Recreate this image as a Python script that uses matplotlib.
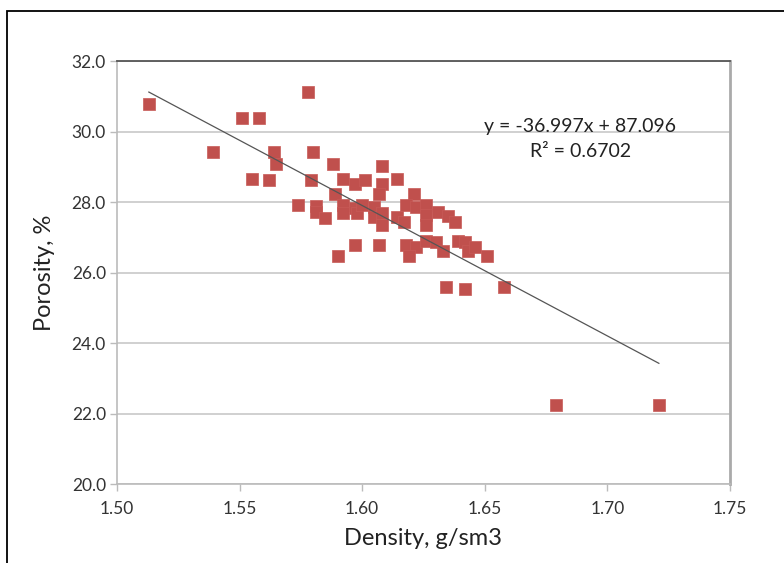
import matplotlib.pyplot as plt
from matplotlib.patches import Rectangle

# density (g/sm3) and porosity (%) for each sample
density = [1.513, 1.539, 1.551, 1.558, 1.578, 1.564, 1.565, 1.580, 1.555, 1.562,
           1.579, 1.588, 1.592, 1.589, 1.574, 1.581, 1.581, 1.585, 1.592, 1.592,
           1.590, 1.608, 1.597, 1.601, 1.608, 1.614, 1.607, 1.621, 1.597, 1.598,
           1.600, 1.605, 1.605, 1.608, 1.608, 1.614, 1.617, 1.618, 1.622, 1.626,
           1.626, 1.626, 1.631, 1.635, 1.638, 1.597, 1.607, 1.618, 1.622, 1.619,
           1.626, 1.630, 1.633, 1.639, 1.642, 1.643, 1.646, 1.651, 1.634, 1.642,
           1.658, 1.679, 1.721]
porosity = [30.78, 29.43, 30.39, 30.39, 31.13, 29.43, 29.07, 29.43, 28.64, 28.62,
            28.62, 29.07, 28.64, 28.22, 27.91, 27.89, 27.71, 27.54, 27.91, 27.70,
            26.47, 29.03, 28.50, 28.62, 28.51, 28.64, 28.22, 28.22, 27.82, 27.70,
            27.91, 27.87, 27.58, 27.68, 27.35, 27.58, 27.42, 27.91, 27.87, 27.91,
            27.63, 27.35, 27.72, 27.61, 27.42, 26.78, 26.78, 26.78, 26.73, 26.48,
            26.89, 26.87, 26.61, 26.89, 26.87, 26.61, 26.73, 26.47, 25.59, 25.52,
            25.59, 22.24, 22.24]

# linear trend
slope = -36.997
intercept = 87.096
r_squared = 0.6702

x_ticks = [1.50, 1.55, 1.60, 1.65, 1.70, 1.75]
y_ticks = [20, 22, 24, 26, 28, 30, 32]

plt.rcParams['font.family'] = ['Lato', 'DejaVu Sans']

fig = plt.figure(figsize=(7.84, 5.63), dpi=100)
ax = fig.add_axes([0.1492, 0.1403, 0.7819, 0.7513])

# outer chart border
fig.patches.append(Rectangle((0.009, -0.1), 1.2, 0.1 + 0.9805, transform=fig.transFigure,
                             fill=False, edgecolor='black', linewidth=1.3))

ax.scatter(density, porosity, marker='s', s=78, color='#c0504d',
           edgecolors='#c85a57', linewidths=0.5, zorder=3)

x_fit = [min(density), max(density)]
y_fit = [slope * v + intercept for v in x_fit]
ax.plot(x_fit, y_fit, color='#555555', linewidth=0.9, zorder=4)

ax.text(1.6889, 30.13, f'y = {slope}x + {intercept}', fontsize=14,
        ha='center', va='center', color='#222222', zorder=5)
ax.text(1.6889, 29.43, f'R² = {r_squared}', fontsize=14,
        ha='center', va='center', color='#222222', zorder=5)

ax.set_xlim(1.50, 1.75)
ax.set_ylim(20, 32)
ax.set_xticks(x_ticks)
ax.set_xticklabels([f'{t:.2f}' for t in x_ticks])
ax.set_yticks(y_ticks)
ax.set_yticklabels([f'{t:.1f}' for t in y_ticks])
ax.tick_params(axis='both', labelsize=12.5, colors='#bbbbbb', labelcolor='#333333',
               length=5, width=1)
ax.tick_params(axis='x', pad=7)
ax.tick_params(axis='y', pad=3)

ax.grid(axis='y', color='#c8c8c8', linewidth=1.2, zorder=0)
ax.set_axisbelow(True)

for side in ['left', 'bottom']:
    ax.spines[side].set_color('#bbbbbb')
    ax.spines[side].set_linewidth(1.2)
ax.spines['right'].set_color('#aaaaaa')
ax.spines['right'].set_linewidth(2)
ax.spines['top'].set_color('#555555')
ax.spines['top'].set_linewidth(1.3)

ax.set_xlabel('Density, g/sm3', fontsize=17, color='#222222', labelpad=8)
ax.set_ylabel('Porosity, %', fontsize=17, color='#222222', labelpad=12)

fig.savefig('out.png', dpi=100)
